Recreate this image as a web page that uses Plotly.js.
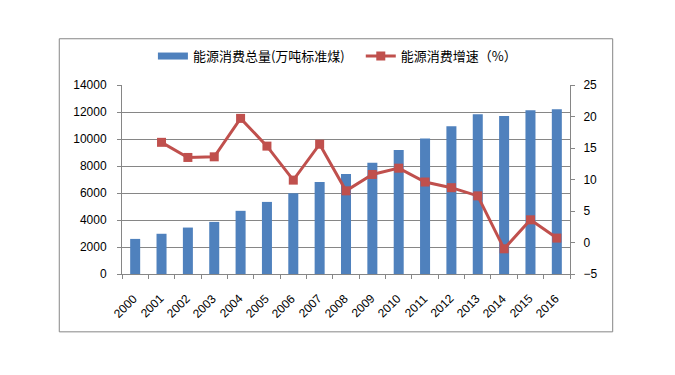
<!DOCTYPE html>
<html><head><meta charset="utf-8">
<script src="https://cdn.plot.ly/plotly-3.0.1.min.js"></script>
<style>html,body{margin:0;padding:0;background:#fff}#chart{width:675px;height:375px}</style>
</head><body><div id="chart"></div>
<script>
const years = ["2000","2001","2002","2003","2004","2005","2006","2007","2008","2009","2010","2011","2012","2013","2014","2015","2016"];
const consumption = [2600,2980,3440,3860,4680,5340,5980,6820,7400,8240,9180,10040,10950,11840,11700,12130,12200];
const growthYears = ["2001","2002","2003","2004","2005","2006","2007","2008","2009","2010","2011","2012","2013","2014","2015","2016"];
const growth = [15.9,13.5,13.6,19.7,15.3,9.9,15.6,8.2,10.8,11.8,9.6,8.7,7.4,-1.0,3.6,0.7];
const barName = "能源消费总量(万吨标准煤)";
const lineName = "能源消费增速（%）";

const tickFont = {family:"Liberation Sans, Arial, sans-serif", size:12, color:"#000"};
const legendFont = {family:"Noto Sans CJK SC, sans-serif", size:13, color:"#000"};
const data = [
  {type:"bar", x:years, y:consumption, name:barName, marker:{color:"#4F81BD"}, width:0.38, yaxis:"y", showlegend:false},
  {type:"scatter", mode:"lines", x:[null], y:[null], name:barName, line:{color:"#4F81BD", width:7}, legend:"legend", hoverinfo:"skip"},
  {type:"scatter", mode:"lines+markers", x:growthYears, y:growth, name:lineName, yaxis:"y2", legend:"legend2",
   line:{color:"#C0504D", width:3}, marker:{symbol:"square", size:9, color:"#C0504D"}}
];
const yearLabels = years.map((yr, i) => ({x:i, xref:"x", y:-0.078, yref:"paper", text:yr, textangle:-45,
  xanchor:"right", yanchor:"top", showarrow:false, font:tickFont, xshift:8}));
const layout = {
  width:675, height:375,
  margin:{l:122, r:105, t:85, b:101, pad:0},
  paper_bgcolor:"#fff", plot_bgcolor:"#fff",
  showlegend:true,
  legend:{orientation:"h", x:0.069, xanchor:"left", y:1.153, yanchor:"middle", font:legendFont, itemwidth:30},
  legend2:{orientation:"h", x:0.533, xanchor:"left", y:1.153, yanchor:"middle", font:legendFont, itemwidth:30},
  xaxis:{type:"category", showticklabels:false, showgrid:false,
    showline:true, linecolor:"#868686", linewidth:1, ticks:"outside", ticklen:4, tickcolor:"#868686",
    tickson:"boundaries", range:[-0.5,16.5]},
  yaxis:{range:[0,14000], dtick:2000, tickfont:tickFont, showgrid:true, gridcolor:"#868686", gridwidth:1,
    showline:true, linecolor:"#868686", ticks:"outside", ticklen:4, tickcolor:"#868686", zeroline:false,
    tickformat:"d", ticklabelstandoff:8},
  yaxis2:{range:[-5,25], dtick:5, overlaying:"y", side:"right", tickfont:tickFont, showgrid:false,
    showline:true, linecolor:"#868686", ticks:"outside", ticklen:4, tickcolor:"#868686", zeroline:false,
    ticklabelstandoff:6},
  annotations:yearLabels,
  shapes:[{type:"rect", xref:"paper", yref:"paper", x0:-0.14, x1:1.0953, y0:-0.306, y1:1.2447,
    line:{color:"#868686", width:1}, fillcolor:"rgba(0,0,0,0)", layer:"below"}]
};
Plotly.newPlot("chart", data, layout, {displayModeBar:false, staticPlot:true});
</script></body></html>
